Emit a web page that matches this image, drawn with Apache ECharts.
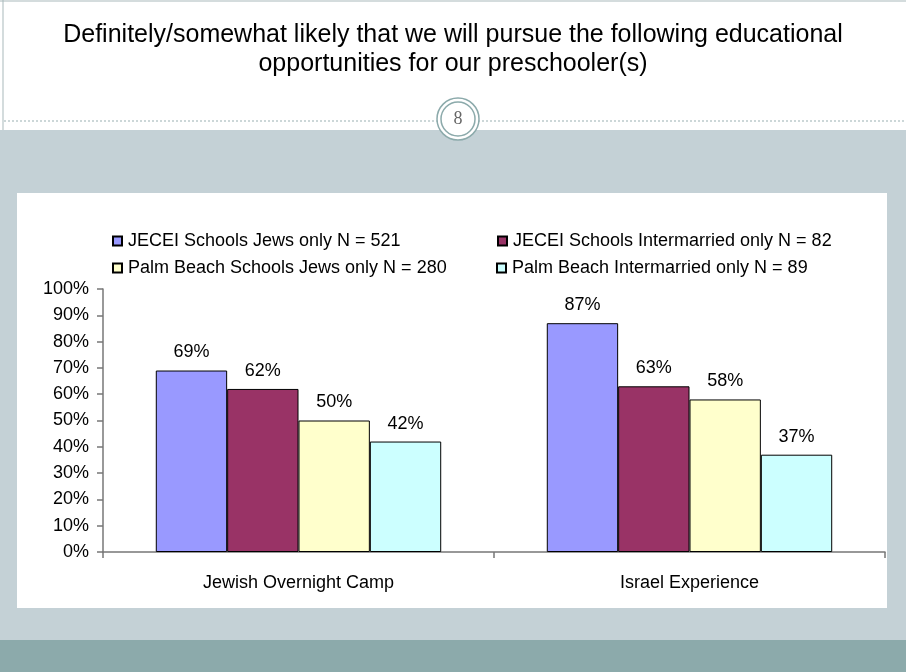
<!DOCTYPE html>
<html>
<head>
<meta charset="utf-8">
<script src="https://cdn.jsdelivr.net/npm/echarts@6/dist/echarts.min.js"></script>
<style>
html,body{margin:0;padding:0;background:#fff;}
#c{width:906px;height:672px;}
</style>
</head>
<body>
<div id="c"></div>
<script>
var titleText = 'Definitely/somewhat likely that we will pursue the following educational\nopportunities for our preschooler(s)';
var slideNumber = '8';
var categories = ['Jewish Overnight Camp', 'Israel Experience'];
var seriesNames = [
  'JECEI Schools Jews only N = 521',
  'JECEI Schools Intermarried only N = 82',
  'Palm Beach Schools Jews only N = 280',
  'Palm Beach Intermarried only N = 89'
];
var jeceiJews = [69, 87];
var jeceiIntermarried = [62, 63];
var palmJews = [50, 58];
var palmIntermarried = [42, 37];
var seriesColors = ['#9999ff', '#993366', '#ffffcc', '#ccffff'];
var yTicks = [0, 10, 20, 30, 40, 50, 60, 70, 80, 90, 100];

var seriesValues = [jeceiJews, jeceiIntermarried, palmJews, palmIntermarried];
var font = '"Liberation Sans", Arial, sans-serif';
var fs = 18;

var chart = echarts.init(document.getElementById('c'), null, {renderer: 'canvas'});

var legendPos = [
  {left: 112, top: 232},
  {left: 497, top: 232},
  {left: 112, top: 259},
  {left: 496, top: 259}
];
var legends = seriesNames.map(function (n, i) {
  return {
    data: [n],
    left: legendPos[i].left,
    top: legendPos[i].top,
    padding: 0,
    itemWidth: 9,
    itemHeight: 9,
    itemGap: 0,
    selectedMode: false,
    icon: 'rect',
    textStyle: {fontFamily: font, fontSize: fs, color: '#000', padding: [0, 0, 0, 1]}
  };
});

var series = seriesNames.map(function (n, i) {
  return {
    name: n,
    type: 'bar',
    data: seriesValues[i],
    barGap: '0%',
    barCategoryGap: '27%',
    itemStyle: {color: seriesColors[i], borderColor: '#000', borderWidth: 1},
    label: {
      show: true,
      position: 'top',
      distance: 9,
      formatter: '{c}%',
      fontFamily: font,
      fontSize: fs,
      color: '#000'
    },
    emphasis: {disabled: true},
    z: 5
  };
});

chart.setOption({
  animation: false,
  title: {
    text: titleText,
    left: 'center',
    top: 16,
    textStyle: {fontFamily: font, fontSize: 25, fontWeight: 'normal', color: '#000', lineHeight: 29}
  },
  graphic: [
    {type: 'rect', shape: {x: 0, y: 0, width: 906, height: 672}, style: {fill: '#ffffff'}, z: -10, silent: true},
    {type: 'rect', shape: {x: 0, y: 130, width: 906, height: 510}, style: {fill: '#c4d1d6'}, z: -9, silent: true},
    {type: 'rect', shape: {x: 0, y: 640, width: 906, height: 32}, style: {fill: '#8caaab'}, z: -9, silent: true},
    {type: 'rect', shape: {x: 17, y: 193, width: 870, height: 415}, style: {fill: '#ffffff'}, z: -8, silent: true},
    {type: 'line', shape: {x1: 0, y1: 1, x2: 906, y2: 1}, style: {stroke: '#a9b9bb', lineWidth: 1}, z: -7, silent: true},
    {type: 'line', shape: {x1: 3, y1: 0, x2: 3, y2: 130}, style: {stroke: '#a9b9bb', lineWidth: 1}, z: -7, silent: true},
    {type: 'line', shape: {x1: 4, y1: 121, x2: 438, y2: 121}, style: {stroke: '#9ab0b2', lineWidth: 1, lineDash: [2, 2]}, z: -7, silent: true},
    {type: 'line', shape: {x1: 478, y1: 121, x2: 906, y2: 121}, style: {stroke: '#9ab0b2', lineWidth: 1, lineDash: [2, 2]}, z: -7, silent: true},
    {type: 'circle', shape: {cx: 458, cy: 119, r: 21}, style: {fill: '#ffffff', stroke: '#8caaab', lineWidth: 1.5}, z: -6, silent: true},
    {type: 'circle', shape: {cx: 458, cy: 119, r: 17}, style: {fill: '#ffffff', stroke: '#8caaab', lineWidth: 1.5}, z: -6, silent: true},
    {type: 'text', x: 458, y: 119, style: {text: slideNumber, fontFamily: '"Liberation Serif", serif', fontSize: 18, fill: '#666', align: 'center', verticalAlign: 'middle'}, z: -5, silent: true}
  ],
  legend: legends,
  grid: {left: 103, right: 21, top: 289, bottom: 120, containLabel: false},
  xAxis: {
    type: 'category',
    data: categories,
    axisLine: {show: true, lineStyle: {color: '#777', width: 1.5}},
    axisTick: {show: true, alignWithLabel: false, length: 6, lineStyle: {color: '#777', width: 1.5}},
    axisLabel: {fontFamily: font, fontSize: fs, color: '#000', margin: 22}
  },
  yAxis: {
    type: 'value',
    min: 0,
    max: 100,
    interval: 10,
    axisLine: {show: true, lineStyle: {color: '#777', width: 1.5}},
    axisTick: {show: true, inside: false, length: 6, lineStyle: {color: '#777', width: 1.5}},
    splitLine: {show: false},
    axisLabel: {
      fontFamily: font, fontSize: fs, color: '#000', margin: 14,
      formatter: function (v) { return yTicks.indexOf(v) >= 0 ? v + '%' : ''; }
    }
  },
  series: series
});
</script>
</body>
</html>
